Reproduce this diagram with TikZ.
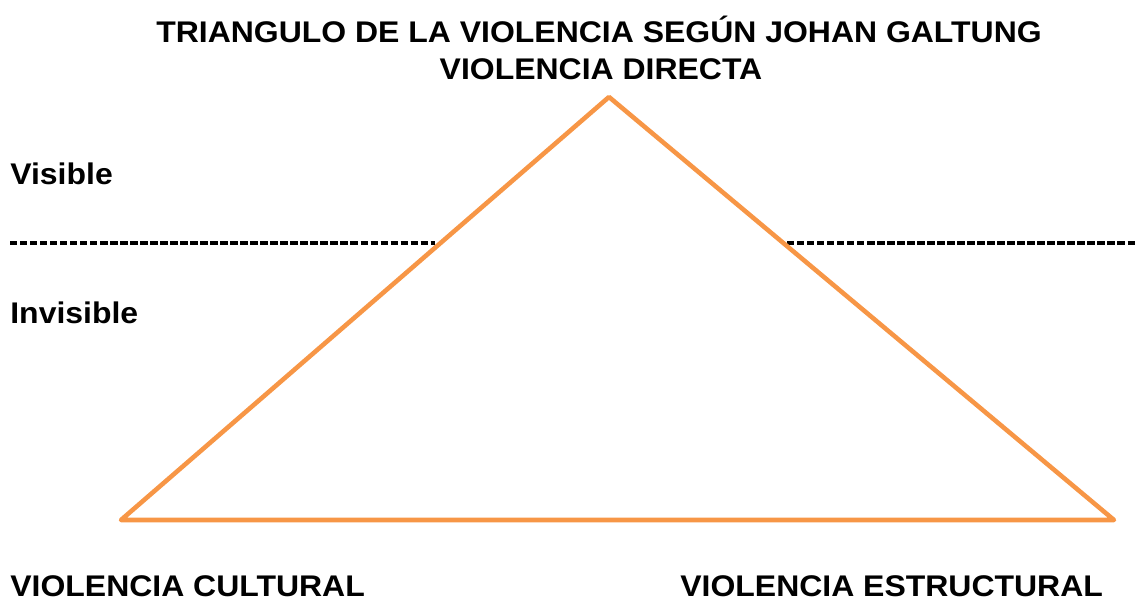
\documentclass[tikz,border=0pt]{standalone}
\usepackage{fontspec}
\setmainfont[FakeStretch=1.07]{Liberation Sans}
\usepackage{tikz}
\definecolor{trianglecolor}{HTML}{F79646}

\begin{document}
\begin{tikzpicture}[x=0.02cm, y=-0.02cm]
\tikzset{textlabel/.style={font=\fontsize{17}{20}\selectfont\bfseries, inner sep=0pt},
         side/.style={draw=trianglecolor, line width=2.6pt, line join=round, line cap=round},
         limitline/.style={draw=black, line width=2pt, dash pattern=on 4.2pt off 1.5pt}}
\useasboundingbox (0,0) rectangle (1137,601);
\begin{scope}
    \node[textlabel, anchor=base] (title) at (599,43) {TRIANGULO DE LA VIOLENCIA SEGÚN JOHAN GALTUNG};
    \node[textlabel, anchor=base] (direct) at (601,80) {VIOLENCIA DIRECTA};
    \node[textlabel, anchor=base west] (visible) at (10,185) {Visible};
    \node[textlabel, anchor=base west] (invisible) at (10,324) {Invisible};
    \node[textlabel, anchor=base west] (cultural) at (10,596) {VIOLENCIA CULTURAL};
    \node[textlabel, anchor=base west] (structural) at (680,596) {VIOLENCIA ESTRUCTURAL};

    \coordinate (A) at (609,97);
    \coordinate (B) at (121,520);
    \coordinate (C) at (1114,520);

    \coordinate (L1) at (10,243);
    \coordinate (L2) at (435,243);
    \coordinate (R1) at (787,243);
    \coordinate (R2) at (1137,243);
\end{scope}

\begin{scope}
    \path [limitline] (L1) -- (L2);
    \path [limitline] (R1) -- (R2);
    \path [side] (A) -- (B) -- (C) -- cycle;
\end{scope}
\end{tikzpicture}
\end{document}
